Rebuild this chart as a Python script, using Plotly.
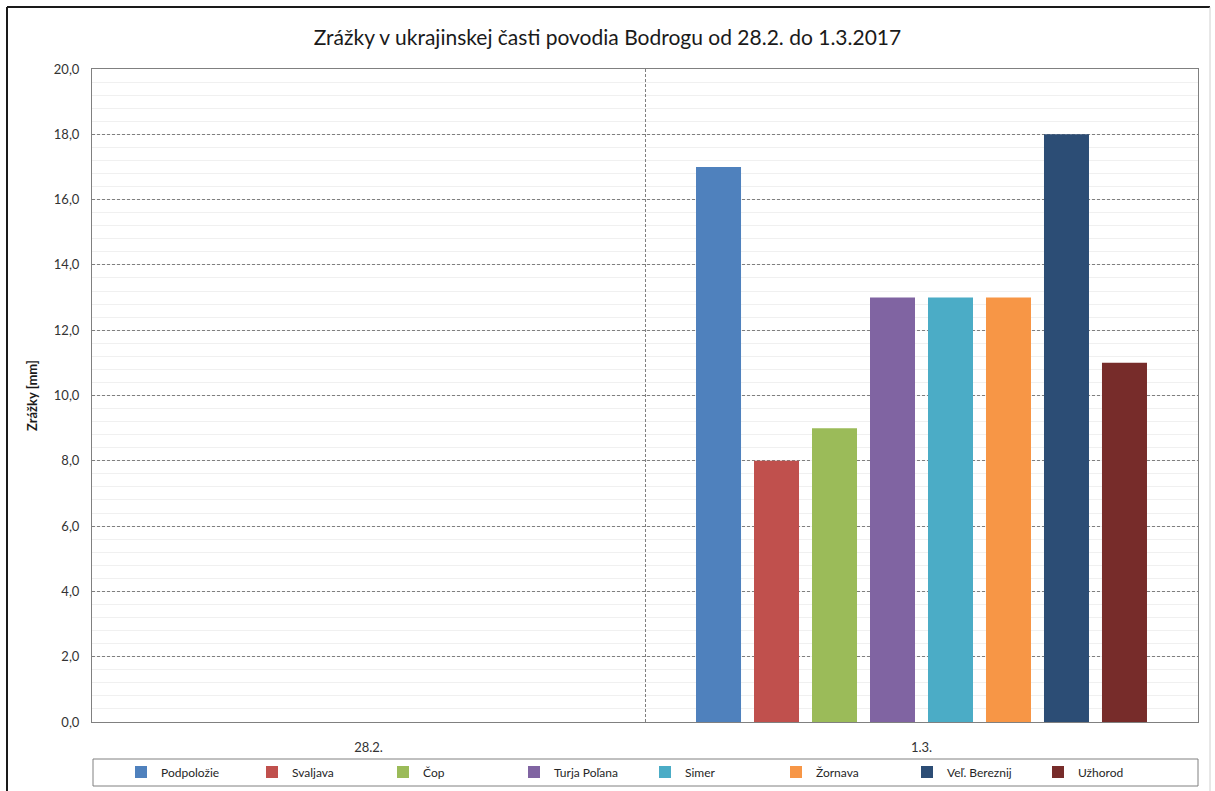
import plotly.graph_objects as go

categories = ["28.2.", "1.3."]
stations = ["Podpoložie", "Svaljava", "Čop", "Turja Poľana", "Simer", "Žornava", "Veľ. Bereznij", "Užhorod"]
values_28_2 = [0, 0, 0, 0, 0, 0, 0, 0]
values_1_3 = [17, 8, 9, 13, 13, 13, 18, 11]
colors = ["#4F81BD", "#C0504D", "#9BBB59", "#8064A2", "#4BACC6", "#F79646", "#2C4D75", "#772C2A"]
y_ticks = [0, 2, 4, 6, 8, 10, 12, 14, 16, 18, 20]

FONT = "Lato"

fig = go.Figure()
for i, name in enumerate(stations):
    fig.add_trace(go.Bar(
        name=name,
        x=categories,
        y=[values_28_2[i], values_1_3[i]],
        marker=dict(color=colors[i], line=dict(width=0)),
    ))

# plot area pixel geometry
L, R, T, B = 92, 17, 69, 69
W, H = 1215, 791
pw, ph = W - L - R, H - T - B

def px(x):
    return (x - L) / pw

def py(y):
    return (H - B - y) / ph

shapes = [
    # outer chart frame
    dict(type="line", xref="paper", yref="paper", x0=px(7), x1=px(1210), y0=py(7), y1=py(7),
         line=dict(color="#1a1a1a", width=2)),
    dict(type="line", xref="paper", yref="paper", x0=px(7), x1=px(7), y0=py(7), y1=py(800),
         line=dict(color="#1a1a1a", width=2)),
    dict(type="line", xref="paper", yref="paper", x0=px(1210), x1=px(1210), y0=py(7), y1=py(800),
         line=dict(color="#d0d0d0", width=1)),
    # legend frame
    dict(type="rect", xref="paper", yref="paper", x0=px(93), x1=px(1198), y0=py(759), y1=py(786),
         line=dict(color="#808080", width=1)),
]

fig.update_layout(
    width=W, height=H,
    margin=dict(l=L, r=R, t=T, b=B, autoexpand=False),
    paper_bgcolor="white", plot_bgcolor="white",
    separators=", ",
    barmode="group",
    bargap=0.161,
    bargroupgap=0.224,
    title=dict(text="Zrážky v ukrajinskej časti povodia Bodrogu od 28.2. do 1.3.2017",
               x=0.5, xref="container", xanchor="center", y=1 - 38 / H, yanchor="middle",
               font=dict(family=FONT, size=21, color="#1a1a1a")),
    font=dict(family=FONT, size=12, color="#262626"),
    showlegend=True,
    legend=dict(orientation="h", x=0.5, xanchor="center", y=py(772), yanchor="middle",
                font=dict(family=FONT, size=12, color="#262626"),
                entrywidth=86, itemwidth=30, bgcolor="rgba(0,0,0,0)",
                traceorder="normal"),
    shapes=shapes,
    xaxis=dict(
        type="category",
        tickson="boundaries",
        showgrid=True, gridcolor="#7f7f7f", griddash="3px,2px", gridwidth=1,
        showline=True, linecolor="#808080", linewidth=1, mirror=True,
        ticks="", tickfont=dict(family=FONT, size=13, color="#333333"),
        ticklabelstandoff=13,
    ),
    yaxis=dict(
        range=[0, 20],
        tickvals=y_ticks,
        tickformat=".1f",
        showgrid=True, gridcolor="#7f7f7f", griddash="3px,2px", gridwidth=1,
        minor=dict(dtick=0.4, showgrid=True, gridcolor="#f0f0f0", gridwidth=1, griddash="solid"),
        showline=True, linecolor="#808080", linewidth=1, mirror=True,
        ticks="", tickfont=dict(family=FONT, size=13, color="#333333"),
        ticklabelstandoff=9,
        zeroline=False,
        title=dict(text="<b>Zrážky [mm]</b>", font=dict(family=FONT, size=13, color="#1a1a1a"), standoff=13),
    ),
)

fig.write_html("out.html")
